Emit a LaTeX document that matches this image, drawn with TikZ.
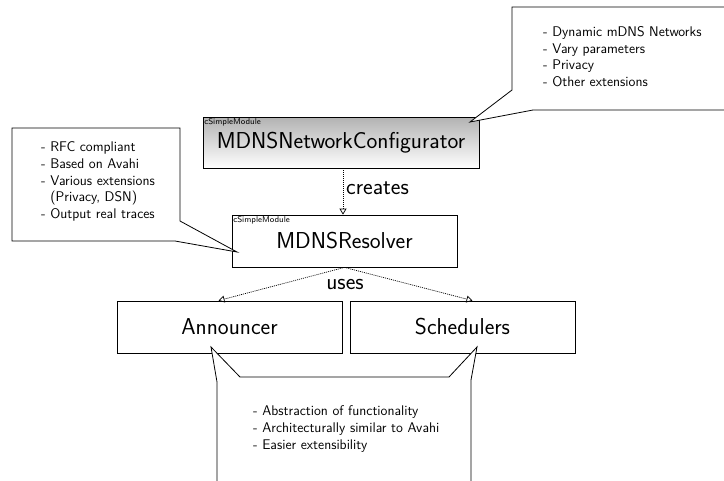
\documentclass[tikz,border=0pt]{standalone}
\usepackage{fontspec}
\usetikzlibrary{arrows.meta, positioning}
\tikzset{
  modbox/.style={draw, line width=0.8pt, minimum width=225pt, minimum height=52pt, inner sep=0pt, font=\sffamily\fontsize{23}{26}\selectfont},
  stereo/.style={anchor=north west, inner sep=1.5pt, font=\sffamily\fontsize{8.4}{9}\selectfont},
  note/.style={draw, fill=white, line width=0.8pt, line join=miter},
  notetext/.style={anchor=north west, inner sep=0pt, align=left, font=\sffamily\fontsize{14}{16.8}\selectfont},
  rel/.style={dash pattern=on 1pt off 1pt, line width=0.7pt, -{Triangle[open, length=6pt, width=7pt]}},
  rellabel/.style={font=\sffamily\fontsize{23}{26}\selectfont, inner sep=0pt},
}
\begin{document}
\begin{tikzpicture}[x=1pt, y=-1pt]
  \clip (0,0) rectangle (724,480);

  % Module boxes
  \node[modbox, minimum width=276pt, minimum height=51pt, top color=black!30, bottom color=white] (cfg) at (341,142.5) {MDNSNetworkConfigurator};
  \node[stereo] (cfgst) at (cfg.north west) {cSimpleModule};
  \node[modbox] (res) at (344.5,241) {MDNSResolver};
  \node[stereo] (resst) at (res.north west) {cSimpleModule};
  \node[modbox] (ann) at (229.5,327) {Announcer};
  \node[modbox] (sch) at (462.5,327) {Schedulers};

  % Relations
  \draw[rel] ([xshift=2pt]cfg.south) -- ([xshift=2pt]cfg.south |- res.north);
  \node[rellabel, anchor=west] (creates) at (346,188) {creates};
  \draw[rel] (res.south) -- ([xshift=-11pt]ann.north);
  \draw[rel] (res.south) -- ([xshift=10pt]sch.north);
  \node[rellabel] (uses) at (345,285) {uses};

  % Callouts
  \draw[note] (512,7) -- (730,7) -- (730,110) -- (533,110) -- (470,122) -- (512,90) -- cycle;
  \node[notetext] (cfgnote) at (543,26) {- Dynamic mDNS Networks\\- Vary parameters\\- Privacy\\- Other extensions};

  \draw[note] (12,128) -- (180,128) -- (180,221) -- (237,252) -- (175,241) -- (12,241) -- cycle;
  \node[notetext] (resnote) at (41,141.5) {- RFC compliant\\- Based on Avahi\\- Various extensions\\\phantom{- }(Privacy, DSN)\\- Output real traces};

  \draw[note] (217,490) -- (217,382) -- (211,347) -- (240,377) -- (449,377) -- (477,347) -- (471,380) -- (471,490) -- cycle;
  \node[notetext] (impnote) at (253,405.5) {- Abstraction of functionality\\- Architecturally similar to Avahi\\- Easier extensibility};
\end{tikzpicture}
\end{document}
